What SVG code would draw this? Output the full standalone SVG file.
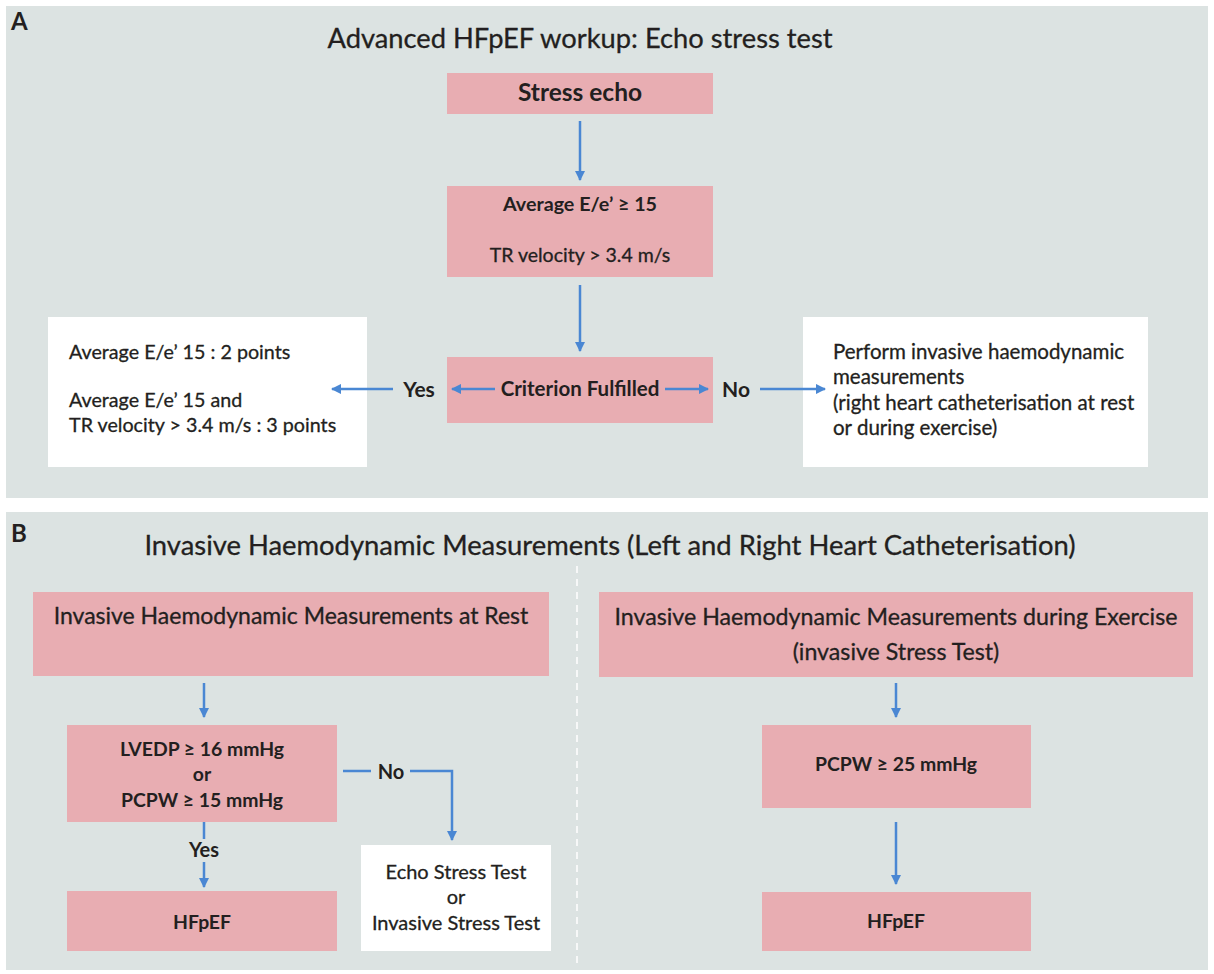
<svg xmlns="http://www.w3.org/2000/svg" width="1214" height="974" viewBox="0 0 1214 974">
  <style>
    text { font-family: Lato, "Liberation Sans", sans-serif; fill: #231f20; }
    .reg { stroke: #231f20; stroke-width: 0.3px; }
    .panel { fill: #dce3e2; }
    .pink { fill: #e8adb2; }
    .white { fill: #ffffff; }
    .letter { font-size: 24px; font-weight: 700; }
    .title { font-size: 27px; text-anchor: middle; }
    .lbl { font-size: 20px; text-anchor: middle; }
    .b { font-weight: 700; }
    .body { font-size: 19.7px; }
    .edge { stroke: #4a87d3; stroke-width: 2.5; fill: none; }
    .arrow { marker-end: url(#head); }
  </style>
  <defs>
    <marker id="head" viewBox="0 0 10 10" refX="9" refY="5" markerWidth="4.2" markerHeight="4.2" orient="auto" markerUnits="strokeWidth">
      <path d="M0,0 L10,5 L0,10 Z" fill="#4a87d3"/>
    </marker>
  </defs>

  <rect width="1214" height="974" fill="#ffffff"/>

  <!-- Panel A: echo stress test -->
  <g id="panelA">
    <rect class="panel" x="6" y="6" width="1202" height="492"/>
    <text class="letter" x="11" y="30">A</text>
    <text class="title reg" x="580" y="48" style="font-size:27.3px">Advanced HFpEF workup: Echo stress test</text>
  </g>

  <g id="stress-echo">
    <rect class="pink" x="447" y="73" width="266" height="41"/>
    <text class="lbl b" x="580" y="101" style="font-size:24.5px">Stress echo</text>
  </g>

  <g id="echo-criteria">
    <rect class="pink" x="447" y="186" width="266" height="91"/>
    <text class="lbl b" x="580" y="211" style="font-size:19.7px">Average E/e’ ≥ 15</text>
    <text class="lbl reg" x="580" y="262" style="font-size:19.5px">TR velocity &gt; 3.4 m/s</text>
  </g>

  <g id="criterion">
    <rect class="pink" x="447" y="357" width="266" height="66"/>
    <text class="lbl b" x="580" y="396" style="font-size:20.5px">Criterion Fulfilled</text>
  </g>

  <g id="points">
    <rect class="white" x="48" y="317" width="319" height="150"/>
    <text class="body reg" x="69" y="359">Average E/e’ 15 : 2 points</text>
    <text class="body reg" x="69" y="407">Average E/e’ 15 and</text>
    <text class="body reg" x="69" y="432">TR velocity &gt; 3.4 m/s : 3 points</text>
  </g>

  <g id="perform-invasive">
    <rect class="white" x="803" y="317" width="345" height="150"/>
    <text class="body reg" x="833" y="359" style="font-size:20.5px">Perform invasive haemodynamic</text>
    <text class="body reg" x="833" y="384" style="font-size:20.5px">measurements</text>
    <text class="body reg" x="833" y="410" style="font-size:20.5px">(right heart catheterisation at rest</text>
    <text class="body reg" x="833" y="435" style="font-size:20.5px">or during exercise)</text>
  </g>

  <!-- Panel B: invasive haemodynamic measurements -->
  <g id="panelB">
    <rect class="panel" x="6" y="512" width="1202" height="458"/>
    <text class="letter" x="11" y="542">B</text>
    <text class="title reg" x="610" y="555" style="font-size:27.4px">Invasive Haemodynamic Measurements (Left and Right Heart Catheterisation)</text>
    <line x1="577" y1="566" x2="577" y2="966" stroke="#ffffff" stroke-width="1.5" stroke-dasharray="7 6"/>
  </g>

  <g id="rest">
    <rect class="pink" x="33" y="592" width="516" height="84"/>
    <text class="lbl reg" x="291" y="624" style="font-size:23px">Invasive Haemodynamic Measurements at Rest</text>
  </g>

  <g id="rest-criteria">
    <rect class="pink" x="67" y="725" width="270" height="97"/>
    <text class="lbl b" x="202" y="756" style="font-size:19.4px">LVEDP ≥ 16 mmHg</text>
    <text class="lbl b" x="202" y="781" style="font-size:19.4px">or</text>
    <text class="lbl b" x="202" y="807" style="font-size:19.4px">PCPW ≥ 15 mmHg</text>
  </g>

  <g id="hfpef-rest">
    <rect class="pink" x="67" y="891" width="270" height="60"/>
    <text class="lbl b" x="202" y="929" style="font-size:19.4px">HFpEF</text>
  </g>

  <g id="stress-test-options">
    <rect class="white" x="361" y="845" width="190" height="106"/>
    <text class="lbl reg" x="456" y="879">Echo Stress Test</text>
    <text class="lbl reg" x="456" y="904">or</text>
    <text class="lbl reg" x="456" y="930">Invasive Stress Test</text>
  </g>

  <g id="exercise">
    <rect class="pink" x="599" y="592" width="594" height="85"/>
    <text class="lbl reg" x="896" y="625" style="font-size:23.2px">Invasive Haemodynamic Measurements during Exercise</text>
    <text class="lbl reg" x="896" y="660" style="font-size:23.2px">(invasive Stress Test)</text>
  </g>

  <g id="exercise-criteria">
    <rect class="pink" x="762" y="725" width="269" height="83"/>
    <text class="lbl b" x="896" y="771" style="font-size:19.4px">PCPW ≥ 25 mmHg</text>
  </g>

  <g id="hfpef-exercise">
    <rect class="pink" x="762" y="892" width="269" height="59"/>
    <text class="lbl b" x="896" y="928" style="font-size:19.4px">HFpEF</text>
  </g>

  <!-- connectors -->
  <g id="connectors">
    <line class="edge arrow" x1="580" y1="121" x2="580" y2="180"/>
    <line class="edge arrow" x1="580" y1="285" x2="580" y2="351"/>
    <line class="edge arrow" x1="495" y1="389" x2="452" y2="389"/>
    <line class="edge arrow" x1="665" y1="389" x2="708" y2="389"/>
    <line class="edge arrow" x1="393" y1="389" x2="332" y2="389"/>
    <line class="edge arrow" x1="760" y1="389" x2="825" y2="389"/>
    <text class="lbl b" x="419" y="397" style="font-size:21px">Yes</text>
    <text class="lbl b" x="736" y="397" style="font-size:21px">No</text>

    <line class="edge arrow" x1="204" y1="683" x2="204" y2="717"/>
    <line class="edge" x1="204" y1="822" x2="204" y2="839"/>
    <text class="lbl b" x="204" y="857" style="font-size:20px">Yes</text>
    <line class="edge arrow" x1="204" y1="862" x2="204" y2="887"/>
    <line class="edge" x1="343" y1="771" x2="371" y2="771"/>
    <text class="lbl b" x="391" y="779" style="font-size:20px">No</text>
    <polyline class="edge arrow" points="410,771 452,771 452,840"/>

    <line class="edge arrow" x1="896" y1="683" x2="896" y2="717"/>
    <line class="edge arrow" x1="896" y1="822" x2="896" y2="884"/>
  </g>
</svg>
